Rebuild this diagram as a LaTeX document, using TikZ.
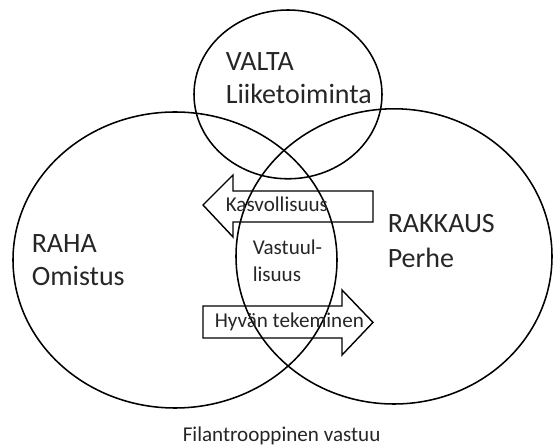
\documentclass[tikz,border=0pt]{standalone}
\usepackage{fontspec}
\setmainfont{Carlito}

\begin{document}
\begin{tikzpicture}[line width=1.1pt,
  big/.style={anchor=base west,inner sep=0pt,font=\fontsize{19.9}{24}\selectfont,text=black!85},
  small/.style={anchor=base west,inner sep=0pt,font=\fontsize{15}{18}\selectfont,text=black!85},
  blk/.style={draw,line width=1pt,line join=miter}]
\useasboundingbox (0,0) rectangle (13.85,11.2);
% the three spheres
\draw (4.375,4.7) ellipse (4.05 and 3.7);
\draw (9.85,4.79) ellipse (3.95 and 3.69);
\draw (7.2,8.84) ellipse (2.35 and 2.11);
% block arrows between money and love
\draw[blk] (5.075,6.075) -- (5.825,6.825) -- (5.825,6.425) -- (9.325,6.425)
  -- (9.325,5.65) -- (5.825,5.65) -- (5.825,5.275) -- cycle;
\draw[blk] (9.325,3.14) -- (8.55,3.95) -- (8.55,3.55) -- (5.075,3.55)
  -- (5.075,2.75) -- (8.55,2.75) -- (8.55,2.325) -- cycle;
\node[big] (valta) at (5.625,9.425) {VALTA};
\node[big] (liike) at (5.625,8.6) {Liiketoiminta};
\node[big] (raha) at (0.775,4.875) {RAHA};
\node[big] (omistus) at (0.775,4.05) {Omistus};
\node[big] (rakkaus) at (9.675,5.375) {RAKKAUS};
\node[big] (perhe) at (9.675,4.5) {Perhe};
\node[small] (vastuu) at (6.3,4.825) {Vastuul-};
\node[small] (lisuus) at (6.3,4.15) {lisuus};
\node[small] (kasv) at (5.625,5.9) {Kasvollisuus};
\node[small] (hyva) at (5.35,3.0) {Hyvän tekeminen};
\node[small,anchor=base] (fil) at (7.04,0.16) {Filantrooppinen vastuu};
\end{tikzpicture}
\end{document}
